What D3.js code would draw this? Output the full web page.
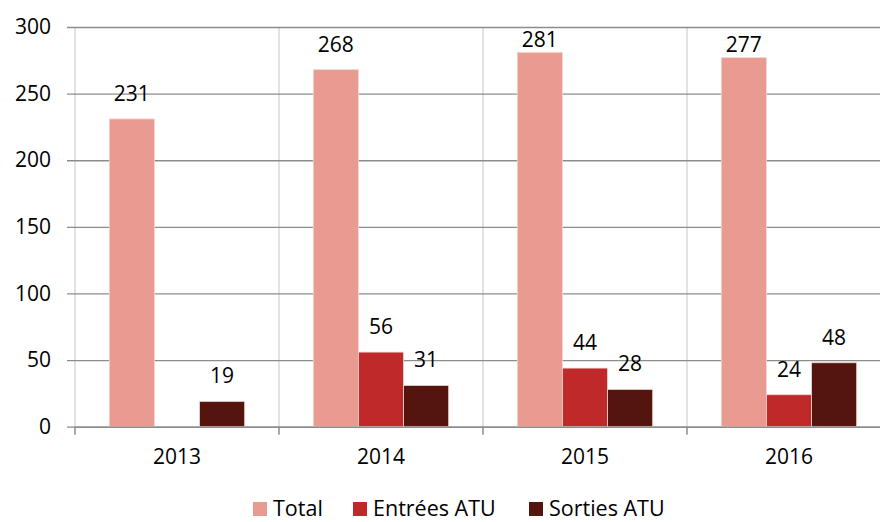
<!DOCTYPE html>
<html>
<head>
<meta charset="utf-8">
<script src="https://cdn.jsdelivr.net/npm/d3@7"></script>
<style>
  body { margin: 0; background: #fff; }
  svg text { font-family: "Open Sans", sans-serif; fill: #000; }
</style>
</head>
<body>
<svg id="chart" width="880" height="522"></svg>
<script>
// data
var years = ["2013", "2014", "2015", "2016"];
var seriesNames = ["Total", "Entrées ATU", "Sorties ATU"];
var totalValues = [231, 268, 281, 277];
var entreesValues = [null, 56, 44, 24];
var sortiesValues = [19, 31, 28, 48];
var yTicks = [0, 50, 100, 150, 200, 250, 300];
var colors = ["#E99A91", "#C0292A", "#54150F"];

var svg = d3.select("#chart");

var allValues = [totalValues, entreesValues, sortiesValues];

var x = d3.scaleBand()
    .domain(years)
    .range([75, 891])
    .padding(0);

var xInner = d3.scaleBand()
    .domain(seriesNames)
    .range([0, x.bandwidth()])
    .paddingInner(0)
    .paddingOuter(0.76);

var y = d3.scaleLinear()
    .domain([0, 300])
    .range([426.7, 27]);

var color = d3.scaleOrdinal().domain(seriesNames).range(colors);

// vertical separators between categories
var seps = years.map(function(d) { return x(d); });
svg.append("g").selectAll("line")
    .data(seps)
    .join("line")
    .attr("x1", function(d) { return d; })
    .attr("x2", function(d) { return d; })
    .attr("y1", y(300))
    .attr("y2", y(0))
    .attr("stroke", "#d9d9d9")
    .attr("stroke-width", 1.5);

// horizontal gridlines + y axis
var yAxis = d3.axisLeft(y)
    .tickValues(yTicks)
    .tickSize(-(891 - 75))
    .tickPadding(16);

var yg = svg.append("g")
    .attr("transform", "translate(75,0)")
    .call(yAxis);
yg.select(".domain").remove();
yg.selectAll(".tick line")
    .attr("x1", -8)
    .attr("stroke", "#8c8c8c")
    .attr("stroke-width", 1.3);
yg.selectAll(".tick text")
    .attr("x", -24)
    .style("font-size", "21px")
    .style("font-family", "'Open Sans', sans-serif")
    .attr("fill", "#000");

// bars
var groups = svg.append("g").selectAll("g")
    .data(years)
    .join("g")
    .attr("transform", function(d) { return "translate(" + x(d) + ",0)"; });

groups.each(function(year, yi) {
    var rows = seriesNames.map(function(s, si) {
        return { series: s, value: allValues[si][yi] };
    }).filter(function(r) { return r.value != null; });

    var g = d3.select(this);
    g.selectAll("rect")
        .data(rows)
        .join("rect")
        .attr("x", function(d) { return xInner(d.series); })
        .attr("y", function(d) { return y(d.value); })
        .attr("width", xInner.bandwidth())
        .attr("height", function(d) { return y(0) - y(d.value); })
        .attr("fill", function(d) { return color(d.series); })
        .attr("stroke", "#f4d6d2")
        .attr("stroke-width", 0.8);

    g.selectAll("text.val")
        .data(rows)
        .join("text")
        .attr("class", "val")
        .attr("x", function(d) { return xInner(d.series) + xInner.bandwidth() / 2; })
        .attr("y", function(d) {
            // labels that would poke above the plot sit closer to the bar
            var base = y(d.value) - 18;
            if (base - 15 < y(300)) base = y(d.value) - 5.5;
            return base;
        })
        .attr("text-anchor", "middle")
        .style("font-size", "21px")
        .text(function(d) { return d.value; });
});

// x axis
var xAxis = d3.axisBottom(x).tickSize(0).tickPadding(22);
var xg = svg.append("g")
    .attr("transform", "translate(0," + y(0) + ")")
    .call(xAxis);
xg.select(".domain").attr("stroke", "#8c8c8c").attr("stroke-width", 1.5);
xg.selectAll(".tick text")
    .style("font-size", "21px")
    .style("font-family", "'Open Sans', sans-serif")
    .attr("fill", "#000");
xg.append("g").selectAll("line")
    .data(seps)
    .join("line")
    .attr("x1", function(d) { return d; })
    .attr("x2", function(d) { return d; })
    .attr("y1", 0)
    .attr("y2", 8)
    .attr("stroke", "#8c8c8c")
    .attr("stroke-width", 1.5);

// legend
var legendX = [253, 353, 529];
var legend = svg.append("g").selectAll("g")
    .data(seriesNames)
    .join("g")
    .attr("transform", function(d, i) { return "translate(" + legendX[i] + ",502)"; });

legend.append("rect")
    .attr("width", 14)
    .attr("height", 14)
    .attr("fill", function(d) { return color(d); });

legend.append("text")
    .attr("x", 20)
    .attr("y", 14)
    .style("font-size", "21.5px")
    .text(function(d) { return d; });
</script>
</body>
</html>
